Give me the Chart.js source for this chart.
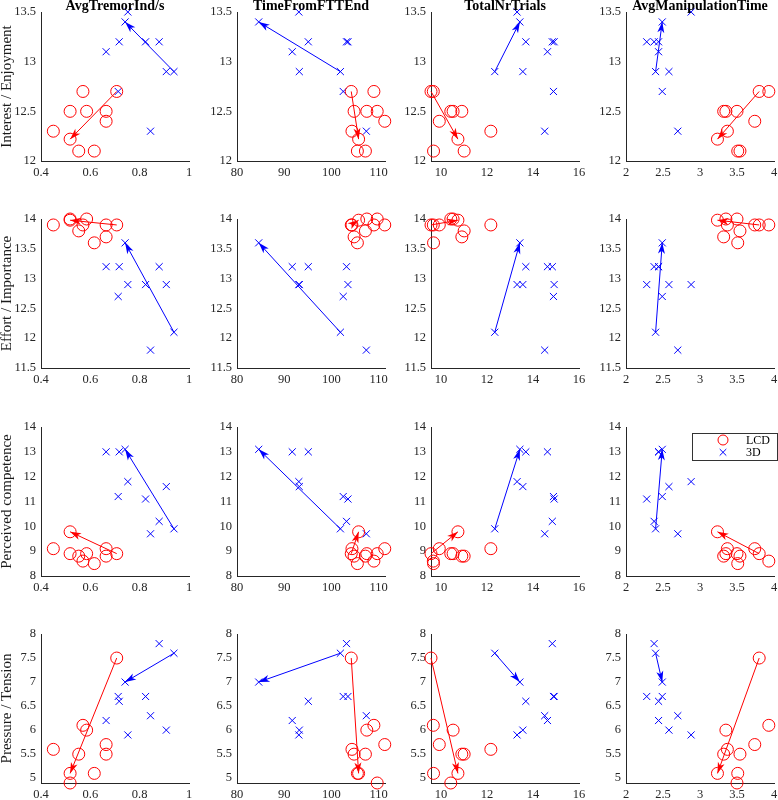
<!DOCTYPE html>
<html>
<head>
<meta charset="utf-8">
<script src="https://cdn.jsdelivr.net/npm/chart.js@4.4.1/dist/chart.umd.min.js"></script>
<style>
  html, body { margin: 0; padding: 0; background: #fff; }
  body { width: 778px; height: 800px; position: relative; overflow: hidden; }
  canvas { position: absolute; }
</style>
</head>
<body>
<script>
const colTitles = ['AvgTremorInd/s', 'TimeFromFTTEnd', 'TotalNrTrials', 'AvgManipulationTime'];
const rowLabels = ['Interest / Enjoyment', 'Effort / Importance', 'Perceived competence', 'Pressure / Tension'];
const groupLabels = ['LCD', '3D'];

// LCD participants (same order in every array)
const lcdTremor = [0.45, 0.518, 0.518, 0.553, 0.57, 0.585, 0.616, 0.664, 0.664, 0.707];
const lcdTime = [104.35, 105.76, 109.7, 107.2, 109.0, 107.5, 105.5, 104.8, 111.3, 104.2];
const lcdTrials = [12.17, 10.74, 10.43, 11.01, 9.67, 10.53, 9.68, 10.91, 9.93, 9.57];
const lcdManip = [3.37, 3.236, 3.5, 3.54, 3.93, 3.35, 3.51, 3.32, 3.74, 3.8];
const lcdInterest = [12.3, 12.22, 12.5, 12.1, 12.7, 12.5, 12.1, 12.5, 12.4, 12.7];
const lcdEffort = [13.9, 13.98, 14.0, 13.8, 13.9, 14.0, 13.6, 13.7, 13.9, 13.9];
const lcdCompetence = [9.1, 9.78, 8.9, 8.8, 8.6, 8.9, 8.5, 8.8, 9.1, 8.9];
const lcdPressure = [5.6, 5.1, 4.9, 5.5, 6.1, 6.0, 5.1, 5.5, 5.7, 7.5];

// 3D participants
const vrTremor = [0.752, 0.741, 0.717, 0.664, 0.824, 0.879, 0.908, 0.939, 0.713, 0.844];
const vrTime = [93.1, 84.6, 95.1, 91.7, 103.5, 103.2, 93.2, 101.9, 102.5, 107.4];
const vrTrials = [13.31, 13.43, 13.69, 14.63, 14.92, 14.84, 13.56, 12.34, 14.89, 14.51];
const vrManip = [2.88, 2.49, 2.44, 2.44, 2.28, 2.38, 2.58, 2.4, 2.49, 2.7];
const vrInterest = [13.5, 13.4, 13.2, 13.1, 13.2, 13.2, 12.9, 12.9, 12.7, 12.3];
const vrEffort = [12.9, 13.6, 13.2, 13.2, 12.9, 13.2, 12.9, 12.1, 12.7, 11.8];
const vrCompetence = [11.8, 13.1, 13.0, 13.0, 11.1, 10.2, 11.6, 9.9, 11.2, 9.7];
const vrPressure = [5.9, 7.0, 6.6, 6.2, 6.7, 7.8, 6.0, 7.6, 6.7, 6.3];

// arrows go from one participant to another (indices into the arrays above)
const lcdArrow = [9, 1];
const vrArrow = [7, 1];

const xLimits = [[0.4, 1], [80, 111.35], [9.57, 16], [2, 4]];
const xTicks = [[0.4, 0.6, 0.8, 1], [80, 90, 100, 110], [10, 12, 14, 16], [2, 2.5, 3, 3.5, 4]];
const yLimits = [[12, 13.5], [11.5, 14], [8, 14], [4.9, 8]];
const yTicks = [
  [12, 12.5, 13, 13.5],
  [11.5, 12, 12.5, 13, 13.5, 14],
  [8, 9, 10, 11, 12, 13, 14],
  [5, 5.5, 6, 6.5, 7, 7.5, 8]
];

// layout of the 4x4 grid (plot area corners in page pixels)
const colLeft = [41, 237, 431, 626];
const rowTop = [12, 219, 427, 634];
const plotW = 148, plotH = 149;
const PAD_L = 41, PAD_T = 14, PAD_R = 12, PAD_B = 30;

const axisColor = '#262626';
const serif = '"Liberation Serif", "Times New Roman", serif';

const groups = [
  { label: groupLabels[0], xs: [lcdTremor, lcdTime, lcdTrials, lcdManip],
    ys: [lcdInterest, lcdEffort, lcdCompetence, lcdPressure],
    color: 'rgb(255,0,0)', style: 'circle', radius: 6, arrow: lcdArrow },
  { label: groupLabels[1], xs: [vrTremor, vrTime, vrTrials, vrManip],
    ys: [vrInterest, vrEffort, vrCompetence, vrPressure],
    color: 'rgb(0,0,255)', style: 'crossRot', radius: 5, arrow: vrArrow }
];

const arrowHeads = {
  id: 'arrowHeads',
  afterDatasetsDraw(chart) {
    const ctx = chart.ctx;
    chart.data.datasets.forEach((ds, i) => {
      if (!ds.isArrow) return;
      const pts = chart.getDatasetMeta(i).data;
      const a = pts[0], b = pts[1];
      const ang = Math.atan2(b.y - a.y, b.x - a.x);
      ctx.save();
      ctx.translate(b.x, b.y);
      ctx.rotate(ang);
      ctx.beginPath();
      ctx.moveTo(0, 0);
      ctx.lineTo(-11, -3.5);
      ctx.lineTo(-8, 0);
      ctx.lineTo(-11, 3.5);
      ctx.closePath();
      ctx.fillStyle = ds.borderColor;
      ctx.fill();
      ctx.restore();
    });
  }
};

const colTitle = {
  id: 'colTitle',
  afterDraw(chart, args, opts) {
    if (!opts.text) return;
    const { ctx, chartArea } = chart;
    ctx.save();
    ctx.font = 'bold 14px ' + serif;
    ctx.fillStyle = '#000';
    ctx.textAlign = 'center';
    ctx.textBaseline = 'alphabetic';
    ctx.fillText(opts.text, (chartArea.left + chartArea.right) / 2, chartArea.top - 2);
    ctx.restore();
  }
};

const legendBox = {
  id: 'legendBox',
  afterDraw(chart, args, opts) {
    if (!opts.show) return;
    const { ctx, chartArea } = chart;
    const x = chartArea.right - 82, y = chartArea.top + 6;
    ctx.save();
    ctx.fillStyle = '#fff';
    ctx.fillRect(x, y, 85, 27);
    ctx.strokeStyle = '#333';
    ctx.lineWidth = 1;
    ctx.strokeRect(x + 0.5, y + 0.5, 85, 27);
    const mx = x + 31;
    // LCD marker
    ctx.strokeStyle = groups[0].color;
    ctx.beginPath();
    ctx.arc(mx, y + 7, 5, 0, Math.PI * 2);
    ctx.stroke();
    // 3D marker
    ctx.strokeStyle = groups[1].color;
    ctx.beginPath();
    ctx.moveTo(mx - 3.3, y + 16);
    ctx.lineTo(mx + 3.3, y + 22.6);
    ctx.moveTo(mx + 3.3, y + 16);
    ctx.lineTo(mx - 3.3, y + 22.6);
    ctx.stroke();
    ctx.fillStyle = '#000';
    ctx.font = '12px ' + serif;
    ctx.textAlign = 'left';
    ctx.textBaseline = 'middle';
    ctx.fillText(groups[0].label, x + 54, y + 7.5);
    ctx.fillText(groups[1].label, x + 54, y + 19.5);
    ctx.restore();
  }
};

function makePanel(r, c) {
  const canvas = document.createElement('canvas');
  const W = PAD_L + plotW + PAD_R, H = PAD_T + plotH + PAD_B;
  canvas.width = W;
  canvas.height = H;
  canvas.style.left = (colLeft[c] - PAD_L) + 'px';
  canvas.style.top = (rowTop[r] - PAD_T) + 'px';
  canvas.style.width = W + 'px';
  canvas.style.height = H + 'px';
  document.body.appendChild(canvas);

  const datasets = [];
  groups.forEach(g => {
    const xs = g.xs[c], ys = g.ys[r];
    datasets.push({
      label: g.label + ' trend',
      isArrow: true,
      data: [{ x: xs[g.arrow[0]], y: ys[g.arrow[0]] }, { x: xs[g.arrow[1]], y: ys[g.arrow[1]] }],
      showLine: true,
      borderColor: g.color,
      borderWidth: 1,
      pointRadius: 0,
      clip: false,
      order: 0
    });
  });
  groups.forEach(g => {
    const xs = g.xs[c], ys = g.ys[r];
    datasets.push({
      label: g.label,
      data: xs.map((x, i) => ({ x: x, y: ys[i] })),
      pointStyle: g.style,
      pointRadius: g.radius,
      pointBorderWidth: 1,
      borderColor: g.color,
      backgroundColor: 'rgba(0,0,0,0)',
      showLine: false,
      clip: false,
      order: 1
    });
  });

  const tickFont = { family: serif, size: 12.5 };

  new Chart(canvas, {
    type: 'scatter',
    data: { datasets: datasets },
    options: {
      responsive: false,
      animation: false,
      devicePixelRatio: 1,
      events: [],
      layout: { padding: { left: 0, top: PAD_T, right: PAD_R, bottom: 0 } },
      plugins: {
        legend: { display: false },
        tooltip: { enabled: false },
        colTitle: { text: r === 0 ? colTitles[c] : '' },
        legendBox: { show: r === 2 && c === 3 }
      },
      scales: {
        x: {
          type: 'linear',
          bounds: 'data',
          min: xLimits[c][0],
          max: xLimits[c][1],
          afterBuildTicks: s => { s.ticks = xTicks[c].map(v => ({ value: v })); },
          afterFit: s => { s.height = PAD_B; },
          grid: { display: false, drawTicks: false },
          border: { color: axisColor, width: 1 },
          ticks: { color: axisColor, font: tickFont, padding: 4, maxRotation: 0, autoSkip: false,
                   callback: v => String(v) }
        },
        y: {
          type: 'linear',
          bounds: 'data',
          min: yLimits[r][0],
          max: yLimits[r][1],
          afterBuildTicks: s => { s.ticks = yTicks[r].map(v => ({ value: v })); },
          afterFit: s => { s.width = PAD_L; },
          grid: { display: false, drawTicks: false },
          border: { color: axisColor, width: 1 },
          ticks: { color: axisColor, font: tickFont, padding: 5, autoSkip: false,
                   callback: v => String(v) },
          title: {
            display: c === 0,
            text: rowLabels[r],
            color: '#1a1a1a',
            font: { family: serif, size: 15, lineHeight: 1 },
            padding: { top: 0, bottom: 0 }
          }
        }
      }
    },
    plugins: [arrowHeads, colTitle, legendBox]
  });
}

for (let r = 0; r < 4; r++) {
  for (let c = 0; c < 4; c++) {
    makePanel(r, c);
  }
}
</script>
</body>
</html>
